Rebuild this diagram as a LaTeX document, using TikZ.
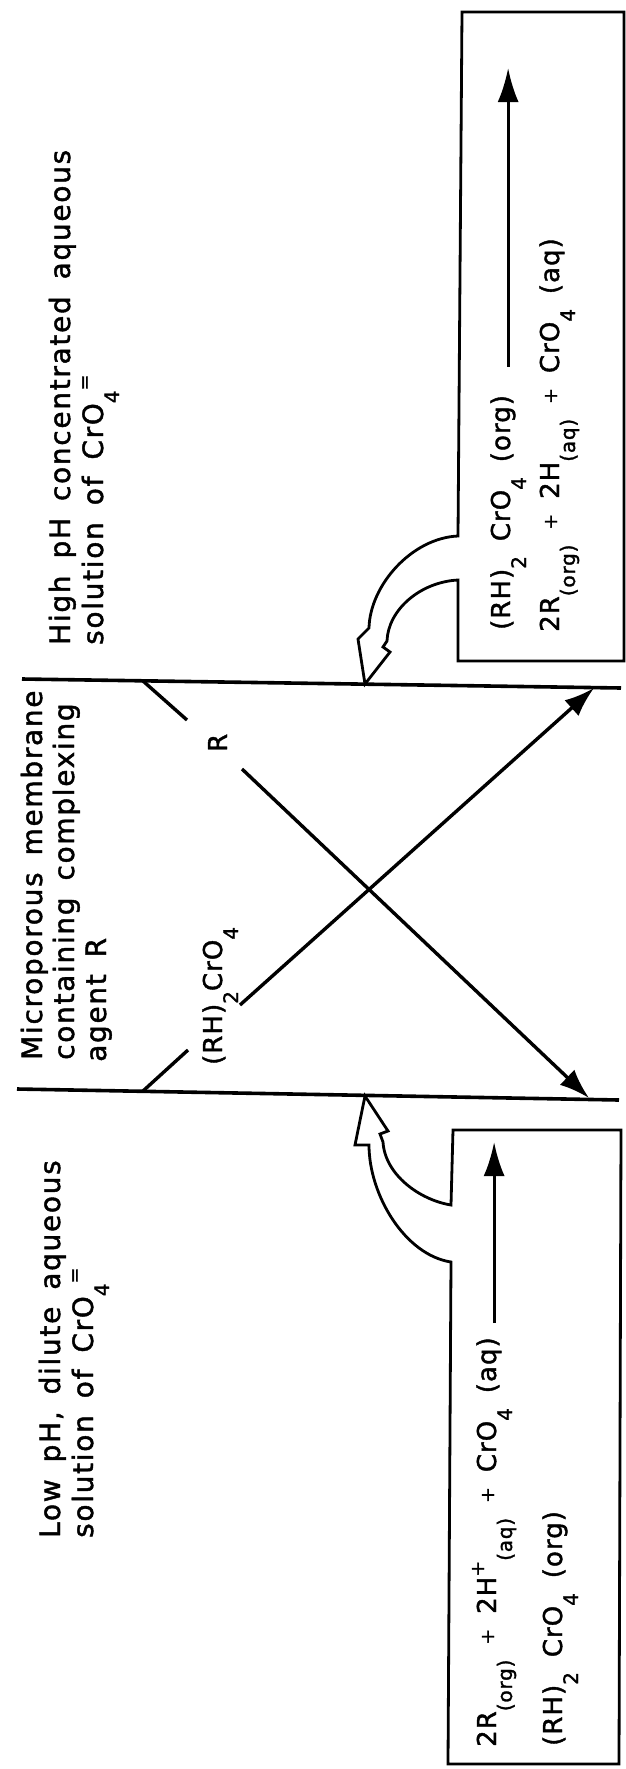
\documentclass[tikz,border=0pt]{standalone}
\usepackage{fontspec}
\setmainfont{DejaVu Sans}[WordSpace=1.6, LetterSpace=4, FakeBold=1.5]
\usetikzlibrary{arrows.meta}

\newcommand\chsub[1]{\raisebox{-16pt}{\fontsize{20}{20}\selectfont #1}}
\newcommand\chsup[1]{\raisebox{12pt}{\fontsize{19}{19}\selectfont #1}}
\newcommand\chplus{\raisebox{2pt}{\fontsize{19}{19}\selectfont +}}

\begin{document}
\begin{tikzpicture}[
    x=1pt, y=-1pt,
    membrane/.style={line width=3.6pt},
    stub/.style={line width=3.4pt},
    flux/.style={line width=3.4pt, -{Latex[length=30pt,width=21pt]}},
    rxn/.style={line width=3pt, -{Latex[length=34pt,width=21pt]}},
    boxline/.style={line width=2.8pt, line join=miter},
    txt/.style={rotate=90, anchor=base west, inner sep=0pt,
                font=\fontsize{28}{34}\selectfont\addfontfeatures{LetterSpace=6}},
    eqn/.style={txt, font=\fontsize{26}{32}\selectfont}
]

\useasboundingbox (0,0) rectangle (626,1769);

% -------------------------------------------------
% Membrane walls
% -------------------------------------------------

\draw[membrane] (22,679) -- (621,688);
\draw[membrane] (17,1089) -- (619,1100);

\draw[stub] (143,681) -- (187,720);
\draw[stub] (143,1091) -- (188,1050);

% -------------------------------------------------
% Carrier transport across the membrane
% -------------------------------------------------

\coordinate (rFoot)   at (242,769);
\coordinate (cFoot)   at (240,1005);
\coordinate (tipHigh) at (594,688);
\coordinate (tipLow)  at (589,1098);

\draw[flux] (rFoot) -- (tipLow);
\draw[flux] (cFoot) -- (tipHigh);

\node[eqn] (agentR)  at (227,752)  {R};
\node[eqn] (complex) at (222,1065) {(RH)\chsub{2}CrO\chsub{4}};

% -------------------------------------------------
% Phase labels
% -------------------------------------------------

\node[txt] (highA) at (70,645)  {High pH concentrated aqueous};
\node[txt] (highB) at (103,645) {solution of CrO\chsub{4}\chsup{=}};

\node[txt] (memA) at (42,1060)  {Microporous membrane};
\node[txt] (memB) at (74,1060)  {containing complexing};
\node[txt] (memC) at (106,1062) {agent R};

\node[txt] (dilA) at (60,1538) {Low pH, dilute aqueous};
\node[txt] (dilB) at (93,1538) {solution of CrO\chsub{4}\chsup{=}};

% -------------------------------------------------
% Stripping side: box with hollow arrow
% -------------------------------------------------

\draw[boxline]
  (462,12) -- (624,12) -- (624,661) -- (458,661) -- (458,580)
  .. controls (420,582) and (388,610) .. (387,641)
  -- (383,647) -- (390,652) -- (365,684)
  -- (358,639) -- (369,628)
  .. controls (370,585) and (412,538) .. (458,536)
  -- cycle;

\node[eqn] (stripA) at (510,630)
  {(RH)\chsub{2} CrO\chsub{4} (org)};
\node[eqn] (stripB) at (559,632)
  {2R\chsub{(org)} \chplus{} 2H\chsub{(aq)} \chplus{} CrO\chsub{4} (aq)};

\coordinate (stripTip) at (505,68);
\draw[rxn, shorten <=28pt] (stripA.east) -- (stripA.east |- stripTip);

% -------------------------------------------------
% Feed side: box with hollow arrow
% -------------------------------------------------

\draw[boxline]
  (453,1130) -- (621,1130) -- (619,1764) -- (448,1764) -- (451,1262)
  .. controls (405,1255) and (369,1195) .. (369,1145)
  -- (355,1145) -- (365,1096)
  -- (388,1131) -- (380,1134) -- (383,1142)
  .. controls (385,1175) and (420,1200) .. (451,1205)
  -- cycle;

\node[eqn] (feedA) at (496,1747)
  {2R\chsub{(org)} \chplus{} 2H\chsup{+}\chsub{(aq)} \chplus{} CrO\chsub{4} (aq)};
\node[eqn] (feedB) at (562,1746)
  {(RH)\chsub{2} CrO\chsub{4} (org)};

\coordinate (feedTip) at (494,1142);
\draw[rxn, shorten <=14pt] (feedA.east) -- (feedA.east |- feedTip);

\end{tikzpicture}
\end{document}
